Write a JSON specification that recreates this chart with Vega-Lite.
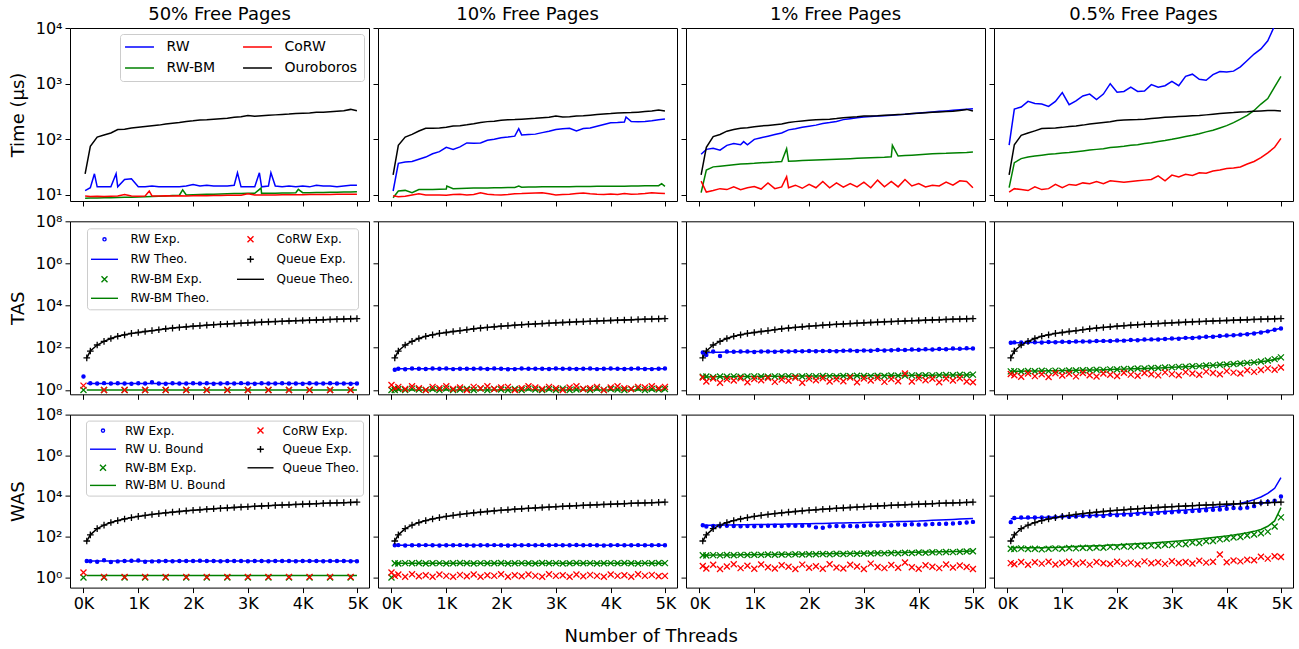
{
"$schema":"https://vega.github.io/schema/vega-lite/v6.json",
"background":"white",
"padding":{"left":8,"top":5,"right":2,"bottom":2},
"title":{"text":"Number of Threads","orient":"bottom","anchor":"middle","fontSize":18,"fontWeight":"normal","offset":16},
"datasets":{
"t":[
{"p":1,"x":30,"a":12,"b":8.7,"c":9.6,"d":24},{"p":1,"x":125,"a":13.5,"b":8.8,"c":9.4,"d":75},{"p":1,"x":200,"a":24},{"p":1,"x":250,"a":14,"b":8.8,"c":9.5,"d":110},{"p":1,"x":375,"a":14,"b":8.9,"c":9.4,"d":120},{"p":1,"x":500,"a":14,"b":8.9,"c":9.5,"d":130},{"p":1,"x":595,"a":24},{"p":1,"x":625,"a":14,"b":9,"c":9.6,"d":150},{"p":1,"x":750,"a":19,"b":9.1,"c":10.2,"d":152},{"p":1,"x":875,"a":19.5,"b":9.1,"c":9.6,"d":160},{"p":1,"x":1000,"a":14,"b":9.2,"c":9.5,"d":165},{"p":1,"x":1125,"a":14,"b":9.3,"c":9.6,"d":170},{"p":1,"x":1200,"c":11.8},{"p":1,"x":1250,"a":14.5,"b":9.4,"c":9.6,"d":175},{"p":1,"x":1375,"a":14,"b":9.5,"c":9.6,"d":180},{"p":1,"x":1500,"a":14,"b":9.6,"c":9.7,"d":188},{"p":1,"x":1625,"a":14,"b":9.8,"c":9.6,"d":195},{"p":1,"x":1750,"a":14,"b":9.9,"c":9.7,"d":200},{"p":1,"x":1810,"b":12.4},{"p":1,"x":1875,"a":14.5,"b":10,"c":9.6,"d":210},{"p":1,"x":2000,"a":15.5,"b":10.1,"c":9.7,"d":215},{"p":1,"x":2125,"a":14.5,"b":10.2,"c":9.8,"d":222},{"p":1,"x":2250,"a":15,"b":10.3,"c":9.7,"d":225},{"p":1,"x":2375,"a":14.5,"b":10.3,"c":9.8,"d":230},{"p":1,"x":2500,"a":14.5,"b":10.4,"c":9.8,"d":235},{"p":1,"x":2625,"a":14.5,"b":10.5,"c":9.9,"d":240},{"p":1,"x":2750,"a":15,"b":10.6,"c":9.9,"d":250},{"p":1,"x":2810,"a":25},{"p":1,"x":2875,"a":14,"b":10.6,"c":9.9,"d":255},{"p":1,"x":3000,"a":14,"b":10.7,"c":10.5,"d":268},{"p":1,"x":3125,"a":14,"b":10.7,"c":10,"d":260},{"p":1,"x":3210,"a":25},{"p":1,"x":3240,"b":13.3},{"p":1,"x":3250,"a":14,"b":10.7,"c":10,"d":265},{"p":1,"x":3375,"a":14.5,"b":10.8,"c":10,"d":270},{"p":1,"x":3420,"a":25},{"p":1,"x":3500,"a":14.5,"b":10.8,"c":10,"d":275},{"p":1,"x":3625,"a":14,"b":10.9,"c":10.1,"d":280},{"p":1,"x":3750,"a":14.5,"b":10.9,"c":10.1,"d":285},{"p":1,"x":3875,"a":14,"b":10.95,"c":10.1,"d":292},{"p":1,"x":3920,"b":12.6},{"p":1,"x":4000,"a":14.5,"b":11,"c":10.1,"d":295},{"p":1,"x":4125,"a":14,"b":11,"c":10.2,"d":298},{"p":1,"x":4250,"a":15,"b":11.1,"c":10.2,"d":305},{"p":1,"x":4375,"a":14.5,"b":11.1,"c":10.2,"d":308},{"p":1,"x":4500,"a":14.5,"b":11.2,"c":10.2,"d":312},{"p":1,"x":4625,"a":14,"b":11.2,"c":10.3,"d":318},{"p":1,"x":4750,"a":14.5,"b":11.3,"c":10.3,"d":325},{"p":1,"x":4875,"a":15,"b":11.3,"c":10.3,"d":345},{"p":1,"x":4990,"a":15,"b":11.4,"c":10.3,"d":325},
{"p":2,"x":30,"a":11.8,"b":8.9,"c":9.7,"d":23},{"p":2,"x":125,"a":37,"b":11.8,"c":9.3,"d":78},{"p":2,"x":250,"a":39,"b":12.1,"c":9.5,"d":110},{"p":2,"x":375,"a":40,"b":11,"c":10,"d":123},{"p":2,"x":500,"a":44,"b":12.5,"c":10.5,"d":141},{"p":2,"x":625,"a":48,"b":12.5,"c":10,"d":158},{"p":2,"x":750,"a":55,"b":12.6,"c":10,"d":158},{"p":2,"x":875,"a":60,"b":12.7,"c":10,"d":160},{"p":2,"x":1000,"a":72,"b":12.8,"c":9.9,"d":165},{"p":2,"x":1010,"b":14.5},{"p":2,"x":1125,"a":66,"b":13,"c":10.2,"d":174},{"p":2,"x":1250,"a":73,"b":13.1,"c":10.3,"d":176},{"p":2,"x":1375,"a":86,"b":13.2,"c":10,"d":182},{"p":2,"x":1500,"a":85,"b":13.3,"c":10.2,"d":190},{"p":2,"x":1625,"a":86,"b":13.3,"c":11,"d":200},{"p":2,"x":1750,"a":96,"b":13.4,"c":10.3,"d":208},{"p":2,"x":1875,"a":100,"b":13.5,"c":10.1,"d":212},{"p":2,"x":2000,"a":107,"b":13.5,"c":10,"d":220},{"p":2,"x":2125,"a":110,"b":13.6,"c":10.2,"d":224},{"p":2,"x":2250,"a":114,"b":13.7,"c":10.5,"d":226},{"p":2,"x":2322,"a":155,"b":14.5},{"p":2,"x":2375,"a":120,"b":13.8,"c":10.6,"d":230},{"p":2,"x":2500,"a":122,"b":13.9,"c":10.8,"d":234},{"p":2,"x":2625,"a":124,"b":13.9,"c":10.9,"d":238},{"p":2,"x":2750,"a":132,"b":14,"c":11,"d":245},{"p":2,"x":2875,"a":140,"b":14,"c":10.5,"d":250},{"p":2,"x":3000,"a":150,"b":14,"c":10,"d":262},{"p":2,"x":3125,"a":155,"b":14.1,"c":10.2,"d":252},{"p":2,"x":3250,"a":158,"b":14.1,"c":10.3,"d":255},{"p":2,"x":3375,"a":142,"b":14.2,"c":10.6,"d":262},{"p":2,"x":3500,"a":156,"b":14.2,"c":10.9,"d":266},{"p":2,"x":3625,"a":160,"b":14.2,"c":10.5,"d":272},{"p":2,"x":3750,"a":172,"b":14.3,"c":10.3,"d":278},{"p":2,"x":3875,"a":185,"b":14.3,"c":10.2,"d":284},{"p":2,"x":4000,"a":198,"b":14.3,"c":10.4,"d":290},{"p":2,"x":4125,"a":200,"b":14.4,"c":10.2,"d":298},{"p":2,"x":4250,"a":205,"b":14.4,"c":10.6,"d":300},{"p":2,"x":4280,"a":252},{"p":2,"x":4375,"a":208,"b":14.5,"c":10.3,"d":302},{"p":2,"x":4500,"a":207,"b":14.5,"c":10.4,"d":308},{"p":2,"x":4625,"a":210,"b":14.6,"c":10.6,"d":315},{"p":2,"x":4750,"a":215,"b":14.6,"c":11,"d":322},{"p":2,"x":4875,"a":225,"b":14.7,"c":10.8,"d":335},{"p":2,"x":4930,"b":16},{"p":2,"x":4990,"a":232,"b":14.3,"c":10.6,"d":323},
{"p":3,"x":30,"a":54,"b":11,"c":17.8,"d":23},{"p":3,"x":125,"a":66,"b":28,"c":11.3,"d":72},{"p":3,"x":250,"a":69,"b":32,"c":12,"d":112},{"p":3,"x":375,"a":64,"b":33,"c":13,"d":122},{"p":3,"x":500,"a":78,"b":34,"c":12.5,"d":140},{"p":3,"x":625,"a":84,"b":35,"c":14,"d":150},{"p":3,"x":750,"a":80,"b":36,"c":12.5,"d":158},{"p":3,"x":806,"a":91},{"p":3,"x":875,"a":80,"b":36.5,"c":13.5,"d":162},{"p":3,"x":1000,"a":100,"b":37,"c":14.2,"d":168},{"p":3,"x":1125,"a":107,"b":38,"c":12.8,"d":174},{"p":3,"x":1250,"a":114,"b":38.5,"c":16.5,"d":178},{"p":3,"x":1375,"a":122,"b":39,"c":13,"d":183},{"p":3,"x":1500,"a":130,"b":40,"c":14,"d":188},{"p":3,"x":1590,"b":68,"c":21.4},{"p":3,"x":1625,"a":148,"b":40.5,"c":13.5,"d":200},{"p":3,"x":1750,"a":155,"b":41,"c":15,"d":208},{"p":3,"x":1875,"a":165,"b":41.5,"c":13.2,"d":214},{"p":3,"x":2000,"a":172,"b":42,"c":15.5,"d":220},{"p":3,"x":2125,"a":180,"b":42.5,"c":13.5,"d":224},{"p":3,"x":2250,"a":192,"b":43,"c":17.5,"d":228},{"p":3,"x":2375,"a":200,"b":43.5,"c":13.5,"d":230},{"p":3,"x":2500,"a":210,"b":44,"c":16.5,"d":236},{"p":3,"x":2625,"a":226,"b":44.5,"c":13.8,"d":244},{"p":3,"x":2750,"a":235,"b":45,"c":16,"d":250},{"p":3,"x":2875,"a":245,"b":45.5,"c":14,"d":255},{"p":3,"x":3000,"a":252,"b":46,"c":17,"d":262},{"p":3,"x":3125,"a":256,"b":46.5,"c":13.5,"d":262},{"p":3,"x":3250,"a":262,"b":47,"c":18.5,"d":265},{"p":3,"x":3375,"a":266,"b":47.5,"c":14,"d":270},{"p":3,"x":3500,"a":270,"b":48.5,"c":17.5,"d":274},{"p":3,"x":3520,"b":78},{"p":3,"x":3625,"a":275,"b":50,"c":14,"d":278},{"p":3,"x":3750,"a":282,"b":51,"c":19,"d":282},{"p":3,"x":3875,"a":289,"b":52,"c":14.5,"d":290},{"p":3,"x":4000,"a":296,"b":53,"c":16,"d":295},{"p":3,"x":4125,"a":302,"b":54,"c":14,"d":300},{"p":3,"x":4250,"a":310,"b":55,"c":15,"d":305},{"p":3,"x":4375,"a":318,"b":55.5,"c":14.5,"d":310},{"p":3,"x":4500,"a":324,"b":56,"c":17,"d":315},{"p":3,"x":4625,"a":332,"b":57,"c":15,"d":320},{"p":3,"x":4750,"a":340,"b":57.5,"c":18,"d":330},{"p":3,"x":4875,"a":348,"b":58,"c":17.5,"d":345},{"p":3,"x":4990,"a":356,"b":59,"c":13.5,"d":323},
{"p":4,"x":30,"a":79,"b":13.6,"c":11.3,"d":23},{"p":4,"x":125,"a":350,"b":38,"c":13,"d":80},{"p":4,"x":250,"a":380,"b":45,"c":12.5,"d":118},{"p":4,"x":375,"a":480,"b":48,"c":12,"d":130},{"p":4,"x":500,"a":440,"b":50,"c":14,"d":142},{"p":4,"x":625,"a":430,"b":52,"c":12.5,"d":156},{"p":4,"x":750,"a":390,"b":54,"c":13,"d":158},{"p":4,"x":875,"a":480,"b":55,"c":15.5,"d":160},{"p":4,"x":1000,"a":692,"b":57,"c":13.5,"d":164},{"p":4,"x":1125,"a":420,"b":58,"c":15.5,"d":170},{"p":4,"x":1250,"a":490,"b":60,"c":15,"d":174},{"p":4,"x":1375,"a":600,"b":62,"c":16.5,"d":180},{"p":4,"x":1500,"a":650,"b":64,"c":16,"d":188},{"p":4,"x":1625,"a":520,"b":66,"c":17.5,"d":194},{"p":4,"x":1750,"a":650,"b":68,"c":16,"d":200},{"p":4,"x":1875,"a":1000,"b":71,"c":18,"d":206},{"p":4,"x":2000,"a":700,"b":73,"c":17.5,"d":218},{"p":4,"x":2125,"a":724,"b":75,"c":17,"d":222},{"p":4,"x":2250,"a":870,"b":78,"c":17.5,"d":225},{"p":4,"x":2375,"a":724,"b":80,"c":18,"d":226},{"p":4,"x":2500,"a":740,"b":84,"c":18.5,"d":230},{"p":4,"x":2625,"a":960,"b":87,"c":19,"d":236},{"p":4,"x":2750,"a":860,"b":91,"c":22,"d":242},{"p":4,"x":2875,"a":920,"b":95,"c":18,"d":248},{"p":4,"x":3000,"a":1100,"b":100,"c":22.8,"d":252},{"p":4,"x":3125,"a":920,"b":106,"c":21,"d":256},{"p":4,"x":3250,"a":1350,"b":112,"c":23.5,"d":260},{"p":4,"x":3375,"a":1480,"b":118,"c":22.5,"d":264},{"p":4,"x":3500,"a":1200,"b":126,"c":25,"d":268},{"p":4,"x":3625,"a":1150,"b":136,"c":24.5,"d":275},{"p":4,"x":3750,"a":1450,"b":146,"c":27,"d":282},{"p":4,"x":3875,"a":1650,"b":160,"c":28,"d":290},{"p":4,"x":4000,"a":1620,"b":176,"c":30,"d":298},{"p":4,"x":4125,"a":1680,"b":200,"c":30.5,"d":302},{"p":4,"x":4250,"a":2000,"b":230,"c":31.8,"d":310},{"p":4,"x":4375,"a":2600,"b":270,"c":36,"d":312},{"p":4,"x":4500,"a":3400,"b":330,"c":40,"d":318},{"p":4,"x":4625,"a":4200,"b":430,"c":47,"d":322},{"p":4,"x":4750,"a":5900,"b":540,"c":57,"d":328},{"p":4,"x":4875,"a":11000,"b":880,"c":72,"d":330},{"p":4,"x":4990,"a":25000,"b":1350,"c":104,"d":323}
],
"u":[
{"p":1,"x":0,"e":4.3,"g":1,"i":1.6},{"p":1,"x":60,"f":2,"h":1,"q":33},{"p":1,"x":125,"e":2.05,"f":2,"h":1,"q":70},{"p":1,"x":250,"e":2,"f":2,"h":1,"q":135},{"p":1,"x":375,"e":2.1,"f":2,"g":1,"h":1,"i":1,"q":200},{"p":1,"x":500,"e":2,"f":2,"h":1,"q":275},{"p":1,"x":625,"e":2.05,"f":2,"h":1,"q":350},{"p":1,"x":750,"e":2,"f":2,"g":1,"h":1,"i":1,"q":410},{"p":1,"x":875,"e":1.95,"f":2,"h":1,"q":480},{"p":1,"x":1000,"e":2.05,"f":2,"h":1,"q":530},{"p":1,"x":1125,"e":2,"f":2,"g":1,"h":1,"i":1,"q":590},{"p":1,"x":1250,"e":2.3,"f":2,"h":1,"q":650},{"p":1,"x":1375,"e":2,"f":2,"h":1,"q":720},{"p":1,"x":1500,"e":1.95,"f":2,"g":1,"h":1,"i":1,"q":800},{"p":1,"x":1625,"e":2.05,"f":2,"h":1,"q":860},{"p":1,"x":1750,"e":2,"f":2,"h":1,"q":920},{"p":1,"x":1875,"e":2,"f":2,"g":1,"h":1,"i":1,"q":990},{"p":1,"x":2000,"e":2.05,"f":2,"h":1,"q":1050},{"p":1,"x":2125,"e":2,"f":2,"h":1,"q":1120},{"p":1,"x":2250,"e":2.05,"f":2,"g":1,"h":1,"i":1,"q":1180},{"p":1,"x":2375,"e":1.95,"f":2,"h":1,"q":1240},{"p":1,"x":2500,"e":2,"f":2,"h":1,"q":1300},{"p":1,"x":2625,"e":2.05,"f":2,"g":1,"h":1,"i":1,"q":1350},{"p":1,"x":2750,"e":2,"f":2,"h":1,"q":1410},{"p":1,"x":2875,"e":2.1,"f":2,"h":1,"q":1470},{"p":1,"x":3000,"e":2,"f":2,"g":1,"h":1,"i":1,"q":1530},{"p":1,"x":3125,"e":1.95,"f":2,"h":1,"q":1580},{"p":1,"x":3250,"e":2.05,"f":2,"h":1,"q":1640},{"p":1,"x":3375,"e":2,"f":2,"g":1,"h":1,"i":1,"q":1700},{"p":1,"x":3500,"e":2,"f":2,"h":1,"q":1750},{"p":1,"x":3625,"e":2.05,"f":2,"h":1,"q":1800},{"p":1,"x":3750,"e":2,"f":2,"g":1,"h":1,"i":1,"q":1860},{"p":1,"x":3875,"e":2,"f":2,"h":1,"q":1920},{"p":1,"x":4000,"e":1.95,"f":2,"h":1,"q":1970},{"p":1,"x":4125,"e":2.05,"f":2,"g":1,"h":1,"i":1,"q":2030},{"p":1,"x":4250,"e":2,"f":2,"h":1,"q":2080},{"p":1,"x":4375,"e":2,"f":2,"h":1,"q":2140},{"p":1,"x":4500,"e":2.05,"f":2,"g":1,"h":1,"i":1,"q":2200},{"p":1,"x":4625,"e":2,"f":2,"h":1,"q":2250},{"p":1,"x":4750,"e":2,"f":2,"h":1,"q":2310},{"p":1,"x":4875,"e":1.95,"f":2,"g":1,"h":1,"i":1,"q":2360},{"p":1,"x":4990,"e":2,"f":2,"h":1,"q":2420},
{"p":2,"x":0,"g":1,"i":1.7},{"p":2,"x":60,"e":9,"f":10,"g":1,"h":1,"i":1.2,"q":33},{"p":2,"x":125,"e":10.2,"f":10,"g":1.1,"h":1,"i":1.4,"q":70},{"p":2,"x":250,"e":9.6,"f":10,"g":1,"h":1,"i":1.1,"q":135},{"p":2,"x":375,"e":10.3,"f":10,"g":1.15,"h":1,"i":1.5,"q":200},{"p":2,"x":500,"e":10.2,"f":10,"g":1.05,"h":1,"i":1.2,"q":275},{"p":2,"x":625,"e":9.8,"f":10,"g":1,"h":1,"i":1,"q":350},{"p":2,"x":750,"e":10.3,"f":10,"g":1.1,"h":1,"i":1.4,"q":410},{"p":2,"x":875,"e":10,"f":10,"g":1,"h":1,"i":1.2,"q":480},{"p":2,"x":1000,"e":10.4,"f":10,"g":1.15,"h":1,"i":1.5,"q":530},{"p":2,"x":1125,"e":9.7,"f":10,"g":1,"h":1,"i":1.1,"q":590},{"p":2,"x":1250,"e":10.1,"f":10,"g":1.05,"h":1,"i":1.3,"q":650},{"p":2,"x":1375,"e":10,"f":10,"g":1.1,"h":1,"i":1,"q":720},{"p":2,"x":1500,"e":10.2,"f":10,"g":1,"h":1,"i":1.4,"q":800},{"p":2,"x":1625,"e":10.3,"f":10,"g":1.15,"h":1,"i":1.2,"q":860},{"p":2,"x":1750,"e":9.8,"f":10,"g":1,"h":1,"i":1.5,"q":920},{"p":2,"x":1875,"e":10.4,"f":10,"g":1.1,"h":1,"i":1.1,"q":990},{"p":2,"x":2000,"e":10,"f":10,"g":1.05,"h":1,"i":1.3,"q":1050},{"p":2,"x":2125,"e":9.6,"f":10,"g":1,"h":1,"i":1.4,"q":1120},{"p":2,"x":2250,"e":9.7,"f":10,"g":1.1,"h":1,"i":1,"q":1180},{"p":2,"x":2375,"e":10.3,"f":10,"g":1,"h":1,"i":1.2,"q":1240},{"p":2,"x":2500,"e":10,"f":10,"g":1.15,"h":1,"i":1.5,"q":1300},{"p":2,"x":2625,"e":10.2,"f":10,"g":1.05,"h":1,"i":1.3,"q":1350},{"p":2,"x":2750,"e":10,"f":10,"g":1,"h":1,"i":1.1,"q":1410},{"p":2,"x":2875,"e":9.9,"f":10,"g":1.1,"h":1,"i":1.4,"q":1470},{"p":2,"x":3000,"e":10.3,"f":10,"g":1,"h":1,"i":1.2,"q":1530},{"p":2,"x":3125,"e":10,"f":10,"g":1.15,"h":1,"i":1,"q":1580},{"p":2,"x":3250,"e":10.1,"f":10,"g":1,"h":1,"i":1.3,"q":1640},{"p":2,"x":3375,"e":9.8,"f":10,"g":1.05,"h":1,"i":1.5,"q":1700},{"p":2,"x":3500,"e":10.2,"f":10,"g":1.1,"h":1,"i":1.1,"q":1750},{"p":2,"x":3625,"e":10.4,"f":10,"g":1,"h":1,"i":1.2,"q":1800},{"p":2,"x":3750,"e":9.7,"f":10,"g":1.15,"h":1,"i":1.4,"q":1860},{"p":2,"x":3875,"e":10.2,"f":10,"g":1,"h":1,"i":1,"q":1920},{"p":2,"x":4000,"e":10.3,"f":10,"g":1.1,"h":1,"i":1.3,"q":1970},{"p":2,"x":4125,"e":10,"f":10,"g":1.05,"h":1,"i":1.5,"q":2030},{"p":2,"x":4250,"e":9.8,"f":10,"g":1,"h":1,"i":1.2,"q":2080},{"p":2,"x":4375,"e":10.2,"f":10,"g":1.1,"h":1,"i":1.1,"q":2140},{"p":2,"x":4500,"e":10.3,"f":10,"g":1.15,"h":1,"i":1.4,"q":2200},{"p":2,"x":4625,"e":9.9,"f":10,"g":1,"h":1,"i":1.3,"q":2250},{"p":2,"x":4750,"e":9.7,"f":10,"g":1.1,"h":1,"i":1.5,"q":2310},{"p":2,"x":4875,"e":10.1,"f":10,"g":1.05,"h":1,"i":1.2,"q":2360},{"p":2,"x":4990,"e":10.5,"f":10,"g":1.1,"h":1,"i":1.4,"q":2420},
{"p":3,"x":60,"e":59,"f":52,"g":4.2,"h":4.1,"i":3.9,"q":33},{"p":3,"x":125,"e":46,"f":58,"g":4.3,"h":4.15,"i":2.5,"q":70},{"p":3,"x":250,"e":66,"f":61,"g":4,"h":4.2,"i":3.5,"q":135},{"p":3,"x":375,"e":41,"f":62,"g":4.3,"h":4.2,"i":2.2,"q":200},{"p":3,"x":500,"e":66,"f":63,"g":4.2,"h":4.25,"i":3.2,"q":275},{"p":3,"x":625,"e":64,"f":64,"g":4.4,"h":4.3,"i":2.8,"q":350},{"p":3,"x":750,"e":66,"f":65,"g":4.2,"h":4.3,"i":3.6,"q":410},{"p":3,"x":875,"e":67,"f":65,"g":4.3,"h":4.35,"i":2.3,"q":480},{"p":3,"x":1000,"e":63,"f":66,"g":4.4,"h":4.35,"i":3.3,"q":530},{"p":3,"x":1125,"e":66,"f":66,"g":4.3,"h":4.4,"i":2.9,"q":590},{"p":3,"x":1250,"e":67,"f":67,"g":4.2,"h":4.4,"i":3.7,"q":650},{"p":3,"x":1375,"e":65,"f":67,"g":4.4,"h":4.45,"i":2.4,"q":720},{"p":3,"x":1500,"e":68,"f":68,"g":4.3,"h":4.45,"i":3.1,"q":800},{"p":3,"x":1625,"e":67,"f":68,"g":4.5,"h":4.5,"i":2.7,"q":860},{"p":3,"x":1750,"e":69,"f":69,"g":4.4,"h":4.5,"i":3.8,"q":920},{"p":3,"x":1875,"e":68,"f":69,"g":4.3,"h":4.55,"i":2.2,"q":990},{"p":3,"x":2000,"e":70,"f":70,"g":4.5,"h":4.55,"i":3.4,"q":1050},{"p":3,"x":2125,"e":69,"f":70,"g":4.4,"h":4.6,"i":2.9,"q":1120},{"p":3,"x":2250,"e":71,"f":71,"g":4.6,"h":4.6,"i":3.6,"q":1180},{"p":3,"x":2375,"e":70,"f":71,"g":4.5,"h":4.65,"i":2.5,"q":1240},{"p":3,"x":2500,"e":69,"f":72,"g":4.4,"h":4.65,"i":3.2,"q":1300},{"p":3,"x":2625,"e":72,"f":73,"g":4.6,"h":4.7,"i":2.6,"q":1350},{"p":3,"x":2750,"e":75,"f":73,"g":4.5,"h":4.7,"i":3.9,"q":1410},{"p":3,"x":2875,"e":70,"f":74,"g":4.7,"h":4.75,"i":2.3,"q":1470},{"p":3,"x":3000,"e":74,"f":75,"g":4.6,"h":4.75,"i":3.5,"q":1530},{"p":3,"x":3125,"e":72,"f":75,"g":4.5,"h":4.8,"i":2.8,"q":1580},{"p":3,"x":3250,"e":78,"f":76,"g":4.7,"h":4.8,"i":3.7,"q":1640},{"p":3,"x":3375,"e":75,"f":77,"g":4.6,"h":4.85,"i":2.4,"q":1700},{"p":3,"x":3500,"e":76,"f":78,"g":4.8,"h":4.85,"i":3.3,"q":1750},{"p":3,"x":3625,"e":80,"f":79,"g":4.7,"h":4.9,"i":2.6,"q":1800},{"p":3,"x":3750,"e":78,"f":79,"g":4.8,"h":4.9,"i":6,"q":1860},{"p":3,"x":3875,"e":82,"f":80,"g":4.9,"h":4.95,"i":2.5,"q":1920},{"p":3,"x":4000,"e":80,"f":81,"g":4.8,"h":4.95,"i":3.6,"q":1970},{"p":3,"x":4125,"e":85,"f":82,"g":5,"h":5,"i":2.9,"q":2030},{"p":3,"x":4250,"e":82,"f":83,"g":4.9,"h":5,"i":3.4,"q":2080},{"p":3,"x":4375,"e":88,"f":84,"g":5,"h":5.05,"i":2.3,"q":2140},{"p":3,"x":4500,"e":86,"f":85,"g":5.1,"h":5.05,"i":3.5,"q":2200},{"p":3,"x":4625,"e":92,"f":87,"g":5,"h":5.1,"i":2.8,"q":2250},{"p":3,"x":4750,"e":90,"f":88,"g":5.2,"h":5.1,"i":3.6,"q":2310},{"p":3,"x":4875,"e":94,"f":90,"g":5.1,"h":5.15,"i":2.5,"q":2360},{"p":3,"x":4990,"e":93,"f":92,"g":5.3,"h":5.2,"i":2.3,"q":2420},
{"p":4,"x":60,"e":175,"f":170,"g":7.6,"h":7.5,"i":5.7,"q":33},{"p":4,"x":125,"e":180,"f":172,"g":7.8,"h":7.6,"i":5,"q":70},{"p":4,"x":250,"e":178,"f":175,"g":7.5,"h":7.7,"i":4.2,"q":135},{"p":4,"x":375,"e":185,"f":178,"g":7.9,"h":7.8,"i":6,"q":200},{"p":4,"x":500,"e":182,"f":180,"g":7.7,"h":7.9,"i":4.5,"q":275},{"p":4,"x":625,"e":176,"f":182,"g":8.1,"h":8,"i":5.5,"q":350},{"p":4,"x":750,"e":188,"f":184,"g":7.8,"h":8.1,"i":4.1,"q":410},{"p":4,"x":875,"e":183,"f":186,"g":8.2,"h":8.2,"i":6.2,"q":480},{"p":4,"x":1000,"e":192,"f":188,"g":8,"h":8.3,"i":4.8,"q":530},{"p":4,"x":1125,"e":188,"f":191,"g":8.4,"h":8.4,"i":5.8,"q":590},{"p":4,"x":1250,"e":197,"f":194,"g":8.3,"h":8.5,"i":4.4,"q":650},{"p":4,"x":1375,"e":200,"f":197,"g":8.6,"h":8.6,"i":6.3,"q":720},{"p":4,"x":1500,"e":198,"f":200,"g":8.5,"h":8.8,"i":5,"q":800},{"p":4,"x":1625,"e":208,"f":204,"g":9,"h":8.9,"i":4.3,"q":860},{"p":4,"x":1750,"e":212,"f":208,"g":8.9,"h":9.1,"i":6,"q":920},{"p":4,"x":1875,"e":210,"f":212,"g":9.4,"h":9.3,"i":5.2,"q":990},{"p":4,"x":2000,"e":222,"f":217,"g":9.3,"h":9.5,"i":4.6,"q":1050},{"p":4,"x":2125,"e":218,"f":222,"g":9.9,"h":9.7,"i":6.5,"q":1120},{"p":4,"x":2250,"e":232,"f":228,"g":9.8,"h":10,"i":5.3,"q":1180},{"p":4,"x":2375,"e":228,"f":234,"g":10.4,"h":10.2,"i":4.7,"q":1240},{"p":4,"x":2500,"e":245,"f":240,"g":10.4,"h":10.5,"i":6.4,"q":1300},{"p":4,"x":2625,"e":250,"f":247,"g":11,"h":10.8,"i":5.5,"q":1350},{"p":4,"x":2750,"e":248,"f":254,"g":11,"h":11.1,"i":4.9,"q":1410},{"p":4,"x":2875,"e":262,"f":262,"g":11.6,"h":11.4,"i":6.8,"q":1470},{"p":4,"x":3000,"e":275,"f":270,"g":11.7,"h":11.8,"i":5.6,"q":1530},{"p":4,"x":3125,"e":270,"f":280,"g":12.4,"h":12.2,"i":5,"q":1580},{"p":4,"x":3250,"e":295,"f":290,"g":12.5,"h":12.6,"i":7,"q":1640},{"p":4,"x":3375,"e":290,"f":300,"g":13.3,"h":13.1,"i":6,"q":1700},{"p":4,"x":3500,"e":310,"f":312,"g":13.5,"h":13.6,"i":5.2,"q":1750},{"p":4,"x":3625,"e":330,"f":325,"g":14.3,"h":14.1,"i":7.4,"q":1800},{"p":4,"x":3750,"e":335,"f":340,"g":14.6,"h":14.7,"i":6.3,"q":1860},{"p":4,"x":3875,"e":360,"f":356,"g":15.5,"h":15.3,"i":5.5,"q":1920},{"p":4,"x":4000,"e":380,"f":375,"g":16,"h":16,"i":7.8,"q":1970},{"p":4,"x":4125,"e":390,"f":395,"g":17,"h":16.8,"i":6.6,"q":2030},{"p":4,"x":4250,"e":420,"f":420,"g":17.8,"h":17.7,"i":6,"q":2080},{"p":4,"x":4375,"e":440,"f":450,"g":19.2,"h":18.8,"i":8.5,"q":2140},{"p":4,"x":4500,"e":480,"f":490,"g":20.3,"h":20.1,"i":7.2,"q":2200},{"p":4,"x":4625,"e":530,"f":540,"g":22.5,"h":21.8,"i":8.8,"q":2250},{"p":4,"x":4750,"e":600,"f":610,"g":24.8,"h":24,"i":10.5,"q":2310},{"p":4,"x":4875,"e":720,"f":720,"g":29,"h":28,"i":9,"q":2360},{"p":4,"x":4990,"e":830,"f":850,"g":35,"h":34,"i":11.5,"q":2420}
],
"w":[
{"p":1,"x":0,"g":1,"i":1.76},{"p":1,"x":60,"e":6.5,"f":6.4,"h":1.25,"q":62},{"p":1,"x":125,"e":6.3,"f":6.4,"h":1.25,"q":125},{"p":1,"x":250,"e":6,"f":6.4,"h":1.25,"q":250},{"p":1,"x":375,"e":7,"f":6.4,"g":1,"h":1.25,"i":1.08,"q":375},{"p":1,"x":500,"e":5.8,"f":6.4,"h":1.25,"q":500},{"p":1,"x":625,"e":6.2,"f":6.4,"h":1.25,"q":625},{"p":1,"x":750,"e":6.4,"f":6.4,"g":1,"h":1.25,"i":1.08,"q":750},{"p":1,"x":875,"e":6.6,"f":6.4,"h":1.25,"q":875},{"p":1,"x":1000,"e":6.8,"f":6.4,"h":1.25,"q":1000},{"p":1,"x":1125,"e":6,"f":6.4,"g":1,"h":1.25,"i":1.08,"q":1125},{"p":1,"x":1250,"e":6.2,"f":6.4,"h":1.25,"q":1250},{"p":1,"x":1375,"e":6.3,"f":6.4,"h":1.25,"q":1375},{"p":1,"x":1500,"e":6.4,"f":6.4,"g":1,"h":1.25,"i":1.08,"q":1500},{"p":1,"x":1625,"e":6.3,"f":6.4,"h":1.25,"q":1625},{"p":1,"x":1750,"e":6.5,"f":6.4,"h":1.25,"q":1750},{"p":1,"x":1875,"e":6.4,"f":6.4,"g":1,"h":1.25,"i":1.08,"q":1875},{"p":1,"x":2000,"e":6.5,"f":6.4,"h":1.25,"q":2000},{"p":1,"x":2125,"e":6.6,"f":6.4,"h":1.25,"q":2125},{"p":1,"x":2250,"e":6.4,"f":6.4,"g":1,"h":1.25,"i":1.08,"q":2250},{"p":1,"x":2375,"e":6.5,"f":6.4,"h":1.25,"q":2375},{"p":1,"x":2500,"e":6.3,"f":6.4,"h":1.25,"q":2500},{"p":1,"x":2625,"e":6.4,"f":6.4,"g":1,"h":1.25,"i":1.08,"q":2625},{"p":1,"x":2750,"e":6.5,"f":6.4,"h":1.25,"q":2750},{"p":1,"x":2875,"e":6.4,"f":6.4,"h":1.25,"q":2875},{"p":1,"x":3000,"e":6.3,"f":6.4,"g":1,"h":1.25,"i":1.08,"q":3000},{"p":1,"x":3125,"e":6.5,"f":6.4,"h":1.25,"q":3125},{"p":1,"x":3250,"e":6.4,"f":6.4,"h":1.25,"q":3250},{"p":1,"x":3375,"e":6.3,"f":6.4,"g":1,"h":1.25,"i":1.08,"q":3375},{"p":1,"x":3500,"e":6.4,"f":6.4,"h":1.25,"q":3500},{"p":1,"x":3625,"e":6.5,"f":6.4,"h":1.25,"q":3625},{"p":1,"x":3750,"e":6.4,"f":6.4,"g":1,"h":1.25,"i":1.08,"q":3750},{"p":1,"x":3875,"e":6.3,"f":6.4,"h":1.25,"q":3875},{"p":1,"x":4000,"e":6.4,"f":6.4,"h":1.25,"q":4000},{"p":1,"x":4125,"e":6.5,"f":6.4,"g":1,"h":1.25,"i":1.08,"q":4125},{"p":1,"x":4250,"e":6.4,"f":6.4,"h":1.25,"q":4250},{"p":1,"x":4375,"e":6.3,"f":6.4,"h":1.25,"q":4375},{"p":1,"x":4500,"e":6.4,"f":6.4,"g":1,"h":1.25,"i":1.08,"q":4500},{"p":1,"x":4625,"e":6.5,"f":6.4,"h":1.25,"q":4625},{"p":1,"x":4750,"e":6.4,"f":6.4,"h":1.25,"q":4750},{"p":1,"x":4875,"e":6.3,"f":6.4,"g":1,"h":1.25,"i":1.08,"q":4875},{"p":1,"x":4990,"e":6.3,"f":6.4,"h":1.25,"q":5000},
{"p":2,"x":0,"g":1,"i":1.76},{"p":2,"x":60,"e":38,"f":38,"g":5,"h":5,"i":1.2,"q":62},{"p":2,"x":125,"e":39,"f":38,"g":4.9,"h":5,"i":1.4,"q":125},{"p":2,"x":250,"e":37,"f":38,"g":5.1,"h":5,"i":1.1,"q":250},{"p":2,"x":375,"e":38,"f":38,"g":5,"h":5,"i":1.45,"q":375},{"p":2,"x":500,"e":38.5,"f":38,"g":5.2,"h":5,"i":1.15,"q":500},{"p":2,"x":625,"e":39,"f":38,"g":4.9,"h":5,"i":1.3,"q":625},{"p":2,"x":750,"e":38,"f":38,"g":5,"h":5,"i":1.1,"q":750},{"p":2,"x":875,"e":37,"f":38,"g":5.1,"h":5,"i":1.4,"q":875},{"p":2,"x":1000,"e":38,"f":38,"g":4.9,"h":5,"i":1.2,"q":1000},{"p":2,"x":1125,"e":38.5,"f":38,"g":5,"h":5,"i":1.1,"q":1125},{"p":2,"x":1250,"e":39,"f":38,"g":5.2,"h":5,"i":1.35,"q":1250},{"p":2,"x":1375,"e":38,"f":38,"g":5,"h":5,"i":1.15,"q":1375},{"p":2,"x":1500,"e":37.5,"f":38,"g":4.9,"h":5,"i":1.4,"q":1500},{"p":2,"x":1625,"e":38,"f":38,"g":5.1,"h":5,"i":1.1,"q":1625},{"p":2,"x":1750,"e":38.5,"f":38,"g":5,"h":5,"i":1.3,"q":1750},{"p":2,"x":1875,"e":39,"f":38,"g":5,"h":5,"i":1.2,"q":1875},{"p":2,"x":2000,"e":38,"f":38,"g":5.2,"h":5,"i":1.45,"q":2000},{"p":2,"x":2125,"e":37,"f":38,"g":4.9,"h":5,"i":1.1,"q":2125},{"p":2,"x":2250,"e":38,"f":38,"g":5,"h":5,"i":1.3,"q":2250},{"p":2,"x":2375,"e":38.5,"f":38,"g":5.1,"h":5,"i":1.15,"q":2375},{"p":2,"x":2500,"e":39,"f":38,"g":5,"h":5,"i":1.4,"q":2500},{"p":2,"x":2625,"e":38,"f":38,"g":4.9,"h":5,"i":1.2,"q":2625},{"p":2,"x":2750,"e":40,"f":38,"g":5.2,"h":5,"i":1.1,"q":2750},{"p":2,"x":2875,"e":38,"f":38,"g":5,"h":5,"i":1.45,"q":2875},{"p":2,"x":3000,"e":39,"f":38,"g":5.1,"h":5,"i":1.2,"q":3000},{"p":2,"x":3125,"e":38,"f":38,"g":4.9,"h":5,"i":1.3,"q":3125},{"p":2,"x":3250,"e":38.5,"f":38,"g":5,"h":5,"i":1.1,"q":3250},{"p":2,"x":3375,"e":40,"f":38,"g":5.2,"h":5,"i":1.4,"q":3375},{"p":2,"x":3500,"e":38,"f":38,"g":5,"h":5,"i":1.15,"q":3500},{"p":2,"x":3625,"e":39,"f":38,"g":5.1,"h":5,"i":1.35,"q":3625},{"p":2,"x":3750,"e":38,"f":38,"g":4.9,"h":5,"i":1.2,"q":3750},{"p":2,"x":3875,"e":37.5,"f":38,"g":5,"h":5,"i":1.1,"q":3875},{"p":2,"x":4000,"e":38,"f":38,"g":5.1,"h":5,"i":1.4,"q":4000},{"p":2,"x":4125,"e":39,"f":38,"g":5,"h":5,"i":1.2,"q":4125},{"p":2,"x":4250,"e":38.5,"f":38,"g":5.2,"h":5,"i":1.3,"q":4250},{"p":2,"x":4375,"e":38,"f":38,"g":5,"h":5,"i":1.1,"q":4375},{"p":2,"x":4500,"e":39,"f":38,"g":4.9,"h":5,"i":1.45,"q":4500},{"p":2,"x":4625,"e":38,"f":38,"g":5.1,"h":5,"i":1.2,"q":4625},{"p":2,"x":4750,"e":38.5,"f":38,"g":5,"h":5,"i":1.35,"q":4750},{"p":2,"x":4875,"e":39,"f":38,"g":5.2,"h":5,"i":1.15,"q":4875},{"p":2,"x":4990,"e":38.5,"f":38,"g":5.1,"h":5,"i":1.2,"q":5000},
{"p":3,"x":60,"e":365,"f":365,"g":12.4,"h":12.5,"i":3.7,"q":62},{"p":3,"x":125,"e":320,"f":368,"g":12,"h":12.5,"i":2.8,"q":125},{"p":3,"x":250,"e":340,"f":372,"g":12.6,"h":12.6,"i":4.2,"q":250},{"p":3,"x":375,"e":345,"f":376,"g":12.2,"h":12.7,"i":2.6,"q":375},{"p":3,"x":500,"e":350,"f":380,"g":12.8,"h":12.8,"i":3.5,"q":500},{"p":3,"x":625,"e":335,"f":384,"g":12.5,"h":12.9,"i":4.5,"q":625},{"p":3,"x":750,"e":330,"f":388,"g":13,"h":13,"i":2.9,"q":750},{"p":3,"x":875,"e":335,"f":392,"g":12.7,"h":13.1,"i":3.8,"q":875},{"p":3,"x":1000,"e":325,"f":397,"g":13.2,"h":13.2,"i":2.7,"q":1000},{"p":3,"x":1125,"e":340,"f":402,"g":12.9,"h":13.4,"i":4.4,"q":1125},{"p":3,"x":1250,"e":350,"f":407,"g":13.4,"h":13.5,"i":3.2,"q":1250},{"p":3,"x":1375,"e":345,"f":412,"g":13.1,"h":13.6,"i":2.8,"q":1375},{"p":3,"x":1500,"e":340,"f":417,"g":13.6,"h":13.8,"i":4,"q":1500},{"p":3,"x":1625,"e":355,"f":423,"g":13.3,"h":13.9,"i":3.4,"q":1625},{"p":3,"x":1750,"e":350,"f":429,"g":13.8,"h":14,"i":2.6,"q":1750},{"p":3,"x":1875,"e":345,"f":435,"g":13.5,"h":14.2,"i":4.3,"q":1875},{"p":3,"x":2000,"e":360,"f":441,"g":14,"h":14.3,"i":3,"q":2000},{"p":3,"x":2125,"e":290,"f":448,"g":13.8,"h":14.5,"i":3.6,"q":2125},{"p":3,"x":2250,"e":280,"f":455,"g":14.3,"h":14.6,"i":2.7,"q":2250},{"p":3,"x":2375,"e":330,"f":462,"g":14,"h":14.8,"i":4.5,"q":2375},{"p":3,"x":2500,"e":335,"f":470,"g":14.6,"h":15,"i":3.1,"q":2500},{"p":3,"x":2625,"e":330,"f":478,"g":14.3,"h":15.1,"i":2.8,"q":2625},{"p":3,"x":2750,"e":335,"f":486,"g":14.9,"h":15.3,"i":4.2,"q":2750},{"p":3,"x":2875,"e":330,"f":495,"g":14.6,"h":15.5,"i":3.5,"q":2875},{"p":3,"x":3000,"e":345,"f":504,"g":15.2,"h":15.7,"i":2.6,"q":3000},{"p":3,"x":3125,"e":370,"f":514,"g":15,"h":15.9,"i":4.8,"q":3125},{"p":3,"x":3250,"e":360,"f":524,"g":15.6,"h":16.1,"i":3.3,"q":3250},{"p":3,"x":3375,"e":380,"f":535,"g":15.3,"h":16.3,"i":2.9,"q":3375},{"p":3,"x":3500,"e":365,"f":546,"g":16,"h":16.5,"i":4.1,"q":3500},{"p":3,"x":3625,"e":400,"f":558,"g":15.7,"h":16.7,"i":3,"q":3625},{"p":3,"x":3750,"e":390,"f":570,"g":16.4,"h":17,"i":5.5,"q":3750},{"p":3,"x":3875,"e":410,"f":583,"g":16.1,"h":17.2,"i":3.2,"q":3875},{"p":3,"x":4000,"e":395,"f":596,"g":16.8,"h":17.4,"i":2.7,"q":4000},{"p":3,"x":4125,"e":400,"f":620,"g":16.6,"h":17.7,"i":4,"q":4125},{"p":3,"x":4250,"e":420,"f":640,"g":17.3,"h":17.9,"i":3.4,"q":4250},{"p":3,"x":4375,"e":430,"f":660,"g":17.1,"h":18.2,"i":2.9,"q":4375},{"p":3,"x":4500,"e":440,"f":680,"g":17.8,"h":18.5,"i":4.4,"q":4500},{"p":3,"x":4625,"e":450,"f":705,"g":17.7,"h":18.8,"i":3.1,"q":4625},{"p":3,"x":4750,"e":470,"f":740,"g":18.5,"h":19.1,"i":3.9,"q":4750},{"p":3,"x":4875,"e":500,"f":770,"g":18.8,"h":19.4,"i":3.3,"q":4875},{"p":3,"x":4990,"e":540,"f":800,"g":19.5,"h":19.8,"i":2.6,"q":5000},
{"p":4,"x":60,"e":525,"f":770,"g":26,"h":30,"i":5.1,"q":62},{"p":4,"x":125,"e":830,"f":800,"g":25,"h":30,"i":4.5,"q":125},{"p":4,"x":250,"e":880,"f":820,"g":27,"h":29,"i":5.8,"q":250},{"p":4,"x":375,"e":880,"f":840,"g":25,"h":29,"i":4.2,"q":375},{"p":4,"x":500,"e":880,"f":860,"g":26,"h":29,"i":5.6,"q":500},{"p":4,"x":625,"e":890,"f":880,"g":24,"h":29,"i":4.8,"q":625},{"p":4,"x":750,"e":900,"f":910,"g":26,"h":30,"i":5.9,"q":750},{"p":4,"x":875,"e":920,"f":940,"g":27,"h":30,"i":4.4,"q":875},{"p":4,"x":1000,"e":1000,"f":970,"g":26,"h":31,"i":5.2,"q":1000},{"p":4,"x":1125,"e":950,"f":1000,"g":28,"h":32,"i":6,"q":1125},{"p":4,"x":1250,"e":1000,"f":1030,"g":27,"h":33,"i":4.6,"q":1250},{"p":4,"x":1375,"e":1050,"f":1070,"g":29,"h":34,"i":5.5,"q":1375},{"p":4,"x":1500,"e":1020,"f":1110,"g":28,"h":35,"i":4.3,"q":1500},{"p":4,"x":1625,"e":1100,"f":1150,"g":30,"h":36,"i":5.8,"q":1625},{"p":4,"x":1750,"e":1060,"f":1190,"g":29,"h":37,"i":5,"q":1750},{"p":4,"x":1875,"e":1200,"f":1240,"g":32,"h":39,"i":4.6,"q":1875},{"p":4,"x":2000,"e":1150,"f":1290,"g":31,"h":40,"i":6,"q":2000},{"p":4,"x":2125,"e":1250,"f":1340,"g":34,"h":42,"i":4.8,"q":2125},{"p":4,"x":2250,"e":1200,"f":1400,"g":32,"h":44,"i":5.4,"q":2250},{"p":4,"x":2375,"e":1350,"f":1460,"g":36,"h":46,"i":4.5,"q":2375},{"p":4,"x":2500,"e":1450,"f":1520,"g":34,"h":48,"i":6.2,"q":2500},{"p":4,"x":2625,"e":1300,"f":1590,"g":38,"h":50,"i":5,"q":2625},{"p":4,"x":2750,"e":1500,"f":1660,"g":36,"h":53,"i":5.6,"q":2750},{"p":4,"x":2875,"e":1550,"f":1740,"g":41,"h":56,"i":4.7,"q":2875},{"p":4,"x":3000,"e":1600,"f":1830,"g":39,"h":59,"i":6.3,"q":3000},{"p":4,"x":3125,"e":1750,"f":1930,"g":45,"h":63,"i":5.2,"q":3125},{"p":4,"x":3250,"e":1650,"f":2040,"g":43,"h":67,"i":5.8,"q":3250},{"p":4,"x":3375,"e":1850,"f":2170,"g":52,"h":72,"i":4.9,"q":3375},{"p":4,"x":3500,"e":1900,"f":2320,"g":50,"h":78,"i":6.6,"q":3500},{"p":4,"x":3625,"e":2000,"f":2500,"g":60,"h":85,"i":5.4,"q":3625},{"p":4,"x":3750,"e":2100,"f":2720,"g":62,"h":92,"i":6,"q":3750},{"p":4,"x":3875,"e":2200,"f":3000,"g":75,"h":100,"i":13.5,"q":3875},{"p":4,"x":4000,"e":2400,"f":3350,"g":80,"h":110,"i":5.6,"q":4000},{"p":4,"x":4125,"e":2600,"f":3800,"g":92,"h":122,"i":6.8,"q":4125},{"p":4,"x":4250,"e":2500,"f":4400,"g":98,"h":138,"i":6.2,"q":4250},{"p":4,"x":4375,"e":2700,"f":5300,"g":115,"h":158,"i":7.4,"q":4375},{"p":4,"x":4500,"e":3200,"f":6700,"g":130,"h":185,"i":7,"q":4500},{"p":4,"x":4625,"e":4500,"f":9000,"g":150,"h":230,"i":10.5,"q":4625},{"p":4,"x":4750,"e":5200,"f":13500,"g":180,"h":330,"i":8.5,"q":4750},{"p":4,"x":4875,"e":5900,"f":24000,"g":320,"h":600,"i":11,"q":4875},{"p":4,"x":4990,"e":9600,"f":80000,"g":900,"h":2700,"i":10.2,"q":5000}
]
},
"columns":4,
"spacing":{"row":20.3,"column":9},
"bounds":"flush",
"resolve":{"scale":{"x":"independent","y":"independent","color":"independent","stroke":"independent","shape":"independent","size":"independent"},"legend":{"color":"independent","stroke":"independent","shape":"independent","size":"independent"}},
"concat":[
{"width":299,"height":173,"title":{"text":"50% Free Pages","offset":-4},"data":{"name":"t"},"transform":[{"filter":"datum.p==1"},{"fold":["a","b","c","d"],"as":["s","v"]},{"filter":"isValid(datum.v)"}],"mark":{"type":"line","strokeWidth":1.5,"clip":true},"encoding":{"x":{"field":"x","type":"quantitative","scale":{"domain":[-246,5210],"nice":false,"zero":false},"axis":{"values":[0,1000,2000,3000,4000,5000],"labels":false,"title":null}},"y":{"field":"v","type":"quantitative","scale":{"type":"log","domain":[7.8,10000],"nice":false},"axis":{"values":[10,100,1000,10000],"labelExpr":"'10'+['⁰','¹','²','³','⁴','⁵','⁶','⁷','⁸'][round(log(datum.value)/LN10)]","title":"Time (µs)"}},"color":{"field":"s","type":"nominal","scale":{"domain":["a","b","c","d"],"range":["#0000ff","#008000","#ff0000","#000000"]},"legend":{"title":null,"orient":"none","legendX":50,"legendY":6,"columns":2,"symbolType":"M-3,0L3,0","symbolSize":93,"symbolStrokeWidth":1.5,"labelExpr":"['RW','RW-BM','CoRW','Ouroboros'][indexof(['a','b','c','d'],datum.label)]","labelFontSize":14,"padding":6,"rowPadding":7,"columnPadding":24,"symbolOffset":6.5,"labelOffset":20,"strokeColor":"#cccccc","fillColor":"rgba(255,255,255,0.8)","cornerRadius":3}}}},
{"width":299,"height":173,"title":"10% Free Pages","data":{"name":"t"},"transform":[{"filter":"datum.p==2"},{"fold":["a","b","c","d"],"as":["s","v"]},{"filter":"isValid(datum.v)"}],"mark":{"type":"line","strokeWidth":1.5,"clip":true},"encoding":{"x":{"field":"x","type":"quantitative","scale":{"domain":[-246,5210],"nice":false,"zero":false},"axis":{"values":[0,1000,2000,3000,4000,5000],"labels":false,"title":null}},"y":{"field":"v","type":"quantitative","scale":{"type":"log","domain":[7.8,10000],"nice":false},"axis":{"values":[10,100,1000,10000],"labels":false,"title":null}},"color":{"field":"s","type":"nominal","scale":{"domain":["a","b","c","d"],"range":["#0000ff","#008000","#ff0000","#000000"]},"legend":null}}},
{"width":299,"height":173,"title":"1% Free Pages","data":{"name":"t"},"transform":[{"filter":"datum.p==3"},{"fold":["a","b","c","d"],"as":["s","v"]},{"filter":"isValid(datum.v)"}],"mark":{"type":"line","strokeWidth":1.5,"clip":true},"encoding":{"x":{"field":"x","type":"quantitative","scale":{"domain":[-246,5210],"nice":false,"zero":false},"axis":{"values":[0,1000,2000,3000,4000,5000],"labels":false,"title":null}},"y":{"field":"v","type":"quantitative","scale":{"type":"log","domain":[7.8,10000],"nice":false},"axis":{"values":[10,100,1000,10000],"labels":false,"title":null}},"color":{"field":"s","type":"nominal","scale":{"domain":["a","b","c","d"],"range":["#0000ff","#008000","#ff0000","#000000"]},"legend":null}}},
{"width":299,"height":173,"title":"0.5% Free Pages","data":{"name":"t"},"transform":[{"filter":"datum.p==4"},{"fold":["a","b","c","d"],"as":["s","v"]},{"filter":"isValid(datum.v)"}],"mark":{"type":"line","strokeWidth":1.5,"clip":true},"encoding":{"x":{"field":"x","type":"quantitative","scale":{"domain":[-246,5210],"nice":false,"zero":false},"axis":{"values":[0,1000,2000,3000,4000,5000],"labels":false,"title":null}},"y":{"field":"v","type":"quantitative","scale":{"type":"log","domain":[7.8,10000],"nice":false},"axis":{"values":[10,100,1000,10000],"labels":false,"title":null}},"color":{"field":"s","type":"nominal","scale":{"domain":["a","b","c","d"],"range":["#0000ff","#008000","#ff0000","#000000"]},"legend":null}}},
{"width":299,"height":173,"data":{"name":"u"},"transform":[{"filter":"datum.p==1"},{"fold":["e","f","g","h","i","q"],"as":["s","v"]},{"filter":"isValid(datum.v)"}],"encoding":{"x":{"field":"x","type":"quantitative","scale":{"domain":[-246,5210],"nice":false,"zero":false},"axis":{"values":[0,1000,2000,3000,4000,5000],"labels":false,"title":null}},"y":{"field":"v","type":"quantitative","scale":{"type":"log","domain":[0.62,100000000],"nice":false},"axis":{"values":[1,100,10000,1000000,100000000],"labelExpr":"'10'+['⁰','¹','²','³','⁴','⁵','⁶','⁷','⁸'][round(log(datum.value)/LN10)]","title":"TAS"}}},"layer":[
{"transform":[{"filter":"indexof(['f','h','q'],datum.s)>=0"}],"mark":{"type":"line","strokeWidth":1.5,"clip":true},"encoding":{"stroke":{"field":"s","type":"nominal","scale":{"domain":["f","h","q"],"range":["#0000ff","#008000","#000000"]},"legend":null}}},
{"transform":[{"filter":"indexof(['e','g','i','q'],datum.s)>=0"}],"mark":{"type":"point","filled":false,"opacity":1,"strokeWidth":1.3,"clip":true},"encoding":{"fill":{"condition":{"test":"datum.s=='e'","value":"#0000ff"},"value":"transparent"},"color":{"field":"s","type":"nominal","scale":{"domain":["e","f","g","h","i","q","k"],"range":["#0000ff","#0000ff","#008000","#008000","#ff0000","#000000","#000000"]},"legend":{"title":null,"orient":"none","legendX":17,"legendY":7,"columns":2,"symbolStrokeWidth":1.4,"encode":{"symbols":{"update":{"fill":{"value":"#0000ff"}}}},"labelExpr":"['RW Exp.','RW Theo.','RW-BM Exp.','RW-BM Theo.','CoRW Exp.','Queue Exp.','Queue Theo.'][indexof(['e','f','g','h','i','q','k'],datum.label)]","labelFontSize":12,"padding":5,"rowPadding":7,"columnPadding":24,"symbolOffset":6.5,"labelOffset":20,"strokeColor":"#cccccc","fillColor":"rgba(255,255,255,0.8)","cornerRadius":3}},"shape":{"field":"s","type":"nominal","scale":{"domain":["e","f","g","h","i","q","k"],"range":["circle","M-3,0L3,0","M-1,-1L1,1M1,-1L-1,1","M-3,0L3,0","M-1,-1L1,1M1,-1L-1,1","M-1,0L1,0M0,-1L0,1","M-3,0L3,0"]},"legend":{"title":null,"orient":"none","legendX":17,"legendY":7,"columns":2,"symbolStrokeWidth":1.4,"encode":{"symbols":{"update":{"fill":{"value":"#0000ff"}}}},"labelExpr":"['RW Exp.','RW Theo.','RW-BM Exp.','RW-BM Theo.','CoRW Exp.','Queue Exp.','Queue Theo.'][indexof(['e','f','g','h','i','q','k'],datum.label)]","labelFontSize":12,"padding":5,"rowPadding":7,"columnPadding":24,"symbolOffset":6.5,"labelOffset":20,"strokeColor":"#cccccc","fillColor":"rgba(255,255,255,0.8)","cornerRadius":3}},"size":{"field":"s","type":"nominal","scale":{"type":"ordinal","domain":["e","f","g","h","i","q","k"],"range":[10,81,36,81,36,44,81]},"legend":{"title":null,"orient":"none","legendX":17,"legendY":7,"columns":2,"symbolStrokeWidth":1.4,"encode":{"symbols":{"update":{"fill":{"value":"#0000ff"}}}},"labelExpr":"['RW Exp.','RW Theo.','RW-BM Exp.','RW-BM Theo.','CoRW Exp.','Queue Exp.','Queue Theo.'][indexof(['e','f','g','h','i','q','k'],datum.label)]","labelFontSize":12,"padding":5,"rowPadding":7,"columnPadding":24,"symbolOffset":6.5,"labelOffset":20,"strokeColor":"#cccccc","fillColor":"rgba(255,255,255,0.8)","cornerRadius":3}}}}]},
{"width":299,"height":173,"data":{"name":"u"},"transform":[{"filter":"datum.p==2"},{"fold":["e","f","g","h","i","q"],"as":["s","v"]},{"filter":"isValid(datum.v)"}],"encoding":{"x":{"field":"x","type":"quantitative","scale":{"domain":[-246,5210],"nice":false,"zero":false},"axis":{"values":[0,1000,2000,3000,4000,5000],"labels":false,"title":null}},"y":{"field":"v","type":"quantitative","scale":{"type":"log","domain":[0.62,100000000],"nice":false},"axis":{"values":[1,100,10000,1000000,100000000],"labels":false,"title":null}}},"layer":[
{"transform":[{"filter":"indexof(['f','h','q'],datum.s)>=0"}],"mark":{"type":"line","strokeWidth":1.5,"clip":true},"encoding":{"stroke":{"field":"s","type":"nominal","scale":{"domain":["f","h","q"],"range":["#0000ff","#008000","#000000"]},"legend":null}}},
{"transform":[{"filter":"indexof(['e','g','i','q'],datum.s)>=0"}],"mark":{"type":"point","filled":false,"opacity":1,"strokeWidth":1.3,"clip":true},"encoding":{"fill":{"condition":{"test":"datum.s=='e'","value":"#0000ff"},"value":"transparent"},"color":{"field":"s","type":"nominal","scale":{"domain":["e","f","g","h","i","q","k"],"range":["#0000ff","#0000ff","#008000","#008000","#ff0000","#000000","#000000"]},"legend":null},"shape":{"field":"s","type":"nominal","scale":{"domain":["e","f","g","h","i","q","k"],"range":["circle","M-3,0L3,0","M-1,-1L1,1M1,-1L-1,1","M-3,0L3,0","M-1,-1L1,1M1,-1L-1,1","M-1,0L1,0M0,-1L0,1","M-3,0L3,0"]},"legend":null},"size":{"field":"s","type":"nominal","scale":{"type":"ordinal","domain":["e","f","g","h","i","q","k"],"range":[10,81,36,81,36,44,81]},"legend":null}}}]},
{"width":299,"height":173,"data":{"name":"u"},"transform":[{"filter":"datum.p==3"},{"fold":["e","f","g","h","i","q"],"as":["s","v"]},{"filter":"isValid(datum.v)"}],"encoding":{"x":{"field":"x","type":"quantitative","scale":{"domain":[-246,5210],"nice":false,"zero":false},"axis":{"values":[0,1000,2000,3000,4000,5000],"labels":false,"title":null}},"y":{"field":"v","type":"quantitative","scale":{"type":"log","domain":[0.62,100000000],"nice":false},"axis":{"values":[1,100,10000,1000000,100000000],"labels":false,"title":null}}},"layer":[
{"transform":[{"filter":"indexof(['f','h','q'],datum.s)>=0"}],"mark":{"type":"line","strokeWidth":1.5,"clip":true},"encoding":{"stroke":{"field":"s","type":"nominal","scale":{"domain":["f","h","q"],"range":["#0000ff","#008000","#000000"]},"legend":null}}},
{"transform":[{"filter":"indexof(['e','g','i','q'],datum.s)>=0"}],"mark":{"type":"point","filled":false,"opacity":1,"strokeWidth":1.3,"clip":true},"encoding":{"fill":{"condition":{"test":"datum.s=='e'","value":"#0000ff"},"value":"transparent"},"color":{"field":"s","type":"nominal","scale":{"domain":["e","f","g","h","i","q","k"],"range":["#0000ff","#0000ff","#008000","#008000","#ff0000","#000000","#000000"]},"legend":null},"shape":{"field":"s","type":"nominal","scale":{"domain":["e","f","g","h","i","q","k"],"range":["circle","M-3,0L3,0","M-1,-1L1,1M1,-1L-1,1","M-3,0L3,0","M-1,-1L1,1M1,-1L-1,1","M-1,0L1,0M0,-1L0,1","M-3,0L3,0"]},"legend":null},"size":{"field":"s","type":"nominal","scale":{"type":"ordinal","domain":["e","f","g","h","i","q","k"],"range":[10,81,36,81,36,44,81]},"legend":null}}}]},
{"width":299,"height":173,"data":{"name":"u"},"transform":[{"filter":"datum.p==4"},{"fold":["e","f","g","h","i","q"],"as":["s","v"]},{"filter":"isValid(datum.v)"}],"encoding":{"x":{"field":"x","type":"quantitative","scale":{"domain":[-246,5210],"nice":false,"zero":false},"axis":{"values":[0,1000,2000,3000,4000,5000],"labels":false,"title":null}},"y":{"field":"v","type":"quantitative","scale":{"type":"log","domain":[0.62,100000000],"nice":false},"axis":{"values":[1,100,10000,1000000,100000000],"labels":false,"title":null}}},"layer":[
{"transform":[{"filter":"indexof(['f','h','q'],datum.s)>=0"}],"mark":{"type":"line","strokeWidth":1.5,"clip":true},"encoding":{"stroke":{"field":"s","type":"nominal","scale":{"domain":["f","h","q"],"range":["#0000ff","#008000","#000000"]},"legend":null}}},
{"transform":[{"filter":"indexof(['e','g','i','q'],datum.s)>=0"}],"mark":{"type":"point","filled":false,"opacity":1,"strokeWidth":1.3,"clip":true},"encoding":{"fill":{"condition":{"test":"datum.s=='e'","value":"#0000ff"},"value":"transparent"},"color":{"field":"s","type":"nominal","scale":{"domain":["e","f","g","h","i","q","k"],"range":["#0000ff","#0000ff","#008000","#008000","#ff0000","#000000","#000000"]},"legend":null},"shape":{"field":"s","type":"nominal","scale":{"domain":["e","f","g","h","i","q","k"],"range":["circle","M-3,0L3,0","M-1,-1L1,1M1,-1L-1,1","M-3,0L3,0","M-1,-1L1,1M1,-1L-1,1","M-1,0L1,0M0,-1L0,1","M-3,0L3,0"]},"legend":null},"size":{"field":"s","type":"nominal","scale":{"type":"ordinal","domain":["e","f","g","h","i","q","k"],"range":[10,81,36,81,36,44,81]},"legend":null}}}]},
{"width":299,"height":173,"data":{"name":"w"},"transform":[{"filter":"datum.p==1"},{"fold":["e","f","g","h","i","q"],"as":["s","v"]},{"filter":"isValid(datum.v)"}],"encoding":{"x":{"field":"x","type":"quantitative","scale":{"domain":[-246,5210],"nice":false,"zero":false},"axis":{"values":[0,1000,2000,3000,4000,5000],"labelExpr":"datum.value/1000+'K'","title":null}},"y":{"field":"v","type":"quantitative","scale":{"type":"log","domain":[0.32,100000000],"nice":false},"axis":{"values":[1,100,10000,1000000,100000000],"labelExpr":"'10'+['⁰','¹','²','³','⁴','⁵','⁶','⁷','⁸'][round(log(datum.value)/LN10)]","title":"WAS"}}},"layer":[
{"transform":[{"filter":"indexof(['f','h','q'],datum.s)>=0"}],"mark":{"type":"line","strokeWidth":1.5,"clip":true},"encoding":{"stroke":{"field":"s","type":"nominal","scale":{"domain":["f","h","q"],"range":["#0000ff","#008000","#000000"]},"legend":null}}},
{"transform":[{"filter":"indexof(['e','g','i','q'],datum.s)>=0"}],"mark":{"type":"point","filled":false,"opacity":1,"strokeWidth":1.3,"clip":true},"encoding":{"fill":{"condition":{"test":"datum.s=='e'","value":"#0000ff"},"value":"transparent"},"color":{"field":"s","type":"nominal","scale":{"domain":["e","f","g","h","i","q","k"],"range":["#0000ff","#0000ff","#008000","#008000","#ff0000","#000000","#000000"]},"legend":{"title":null,"orient":"none","legendX":16,"legendY":6,"columns":2,"symbolStrokeWidth":1.4,"encode":{"symbols":{"update":{"fill":{"value":"#0000ff"}}}},"labelExpr":"['RW Exp.','RW U. Bound','RW-BM Exp.','RW-BM U. Bound','CoRW Exp.','Queue Exp.','Queue Theo.'][indexof(['e','f','g','h','i','q','k'],datum.label)]","labelFontSize":12,"padding":4,"rowPadding":5.6,"columnPadding":18.5,"symbolOffset":7,"labelOffset":16,"strokeColor":"#cccccc","fillColor":"rgba(255,255,255,0.8)","cornerRadius":3}},"shape":{"field":"s","type":"nominal","scale":{"domain":["e","f","g","h","i","q","k"],"range":["circle","M-3,0L3,0","M-1,-1L1,1M1,-1L-1,1","M-3,0L3,0","M-1,-1L1,1M1,-1L-1,1","M-1,0L1,0M0,-1L0,1","M-3,0L3,0"]},"legend":{"title":null,"orient":"none","legendX":16,"legendY":6,"columns":2,"symbolStrokeWidth":1.4,"encode":{"symbols":{"update":{"fill":{"value":"#0000ff"}}}},"labelExpr":"['RW Exp.','RW U. Bound','RW-BM Exp.','RW-BM U. Bound','CoRW Exp.','Queue Exp.','Queue Theo.'][indexof(['e','f','g','h','i','q','k'],datum.label)]","labelFontSize":12,"padding":4,"rowPadding":5.6,"columnPadding":18.5,"symbolOffset":7,"labelOffset":16,"strokeColor":"#cccccc","fillColor":"rgba(255,255,255,0.8)","cornerRadius":3}},"size":{"field":"s","type":"nominal","scale":{"type":"ordinal","domain":["e","f","g","h","i","q","k"],"range":[10,75,36,75,36,44,75]},"legend":{"title":null,"orient":"none","legendX":16,"legendY":6,"columns":2,"symbolStrokeWidth":1.4,"encode":{"symbols":{"update":{"fill":{"value":"#0000ff"}}}},"labelExpr":"['RW Exp.','RW U. Bound','RW-BM Exp.','RW-BM U. Bound','CoRW Exp.','Queue Exp.','Queue Theo.'][indexof(['e','f','g','h','i','q','k'],datum.label)]","labelFontSize":12,"padding":4,"rowPadding":5.6,"columnPadding":18.5,"symbolOffset":7,"labelOffset":16,"strokeColor":"#cccccc","fillColor":"rgba(255,255,255,0.8)","cornerRadius":3}}}}]},
{"width":299,"height":173,"data":{"name":"w"},"transform":[{"filter":"datum.p==2"},{"fold":["e","f","g","h","i","q"],"as":["s","v"]},{"filter":"isValid(datum.v)"}],"encoding":{"x":{"field":"x","type":"quantitative","scale":{"domain":[-246,5210],"nice":false,"zero":false},"axis":{"values":[0,1000,2000,3000,4000,5000],"labelExpr":"datum.value/1000+'K'","title":null}},"y":{"field":"v","type":"quantitative","scale":{"type":"log","domain":[0.32,100000000],"nice":false},"axis":{"values":[1,100,10000,1000000,100000000],"labels":false,"title":null}}},"layer":[
{"transform":[{"filter":"indexof(['f','h','q'],datum.s)>=0"}],"mark":{"type":"line","strokeWidth":1.5,"clip":true},"encoding":{"stroke":{"field":"s","type":"nominal","scale":{"domain":["f","h","q"],"range":["#0000ff","#008000","#000000"]},"legend":null}}},
{"transform":[{"filter":"indexof(['e','g','i','q'],datum.s)>=0"}],"mark":{"type":"point","filled":false,"opacity":1,"strokeWidth":1.3,"clip":true},"encoding":{"fill":{"condition":{"test":"datum.s=='e'","value":"#0000ff"},"value":"transparent"},"color":{"field":"s","type":"nominal","scale":{"domain":["e","f","g","h","i","q","k"],"range":["#0000ff","#0000ff","#008000","#008000","#ff0000","#000000","#000000"]},"legend":null},"shape":{"field":"s","type":"nominal","scale":{"domain":["e","f","g","h","i","q","k"],"range":["circle","M-3,0L3,0","M-1,-1L1,1M1,-1L-1,1","M-3,0L3,0","M-1,-1L1,1M1,-1L-1,1","M-1,0L1,0M0,-1L0,1","M-3,0L3,0"]},"legend":null},"size":{"field":"s","type":"nominal","scale":{"type":"ordinal","domain":["e","f","g","h","i","q","k"],"range":[10,75,36,75,36,44,75]},"legend":null}}}]},
{"width":299,"height":173,"data":{"name":"w"},"transform":[{"filter":"datum.p==3"},{"fold":["e","f","g","h","i","q"],"as":["s","v"]},{"filter":"isValid(datum.v)"}],"encoding":{"x":{"field":"x","type":"quantitative","scale":{"domain":[-246,5210],"nice":false,"zero":false},"axis":{"values":[0,1000,2000,3000,4000,5000],"labelExpr":"datum.value/1000+'K'","title":null}},"y":{"field":"v","type":"quantitative","scale":{"type":"log","domain":[0.32,100000000],"nice":false},"axis":{"values":[1,100,10000,1000000,100000000],"labels":false,"title":null}}},"layer":[
{"transform":[{"filter":"indexof(['f','h','q'],datum.s)>=0"}],"mark":{"type":"line","strokeWidth":1.5,"clip":true},"encoding":{"stroke":{"field":"s","type":"nominal","scale":{"domain":["f","h","q"],"range":["#0000ff","#008000","#000000"]},"legend":null}}},
{"transform":[{"filter":"indexof(['e','g','i','q'],datum.s)>=0"}],"mark":{"type":"point","filled":false,"opacity":1,"strokeWidth":1.3,"clip":true},"encoding":{"fill":{"condition":{"test":"datum.s=='e'","value":"#0000ff"},"value":"transparent"},"color":{"field":"s","type":"nominal","scale":{"domain":["e","f","g","h","i","q","k"],"range":["#0000ff","#0000ff","#008000","#008000","#ff0000","#000000","#000000"]},"legend":null},"shape":{"field":"s","type":"nominal","scale":{"domain":["e","f","g","h","i","q","k"],"range":["circle","M-3,0L3,0","M-1,-1L1,1M1,-1L-1,1","M-3,0L3,0","M-1,-1L1,1M1,-1L-1,1","M-1,0L1,0M0,-1L0,1","M-3,0L3,0"]},"legend":null},"size":{"field":"s","type":"nominal","scale":{"type":"ordinal","domain":["e","f","g","h","i","q","k"],"range":[10,75,36,75,36,44,75]},"legend":null}}}]},
{"width":299,"height":173,"data":{"name":"w"},"transform":[{"filter":"datum.p==4"},{"fold":["e","f","g","h","i","q"],"as":["s","v"]},{"filter":"isValid(datum.v)"}],"encoding":{"x":{"field":"x","type":"quantitative","scale":{"domain":[-246,5210],"nice":false,"zero":false},"axis":{"values":[0,1000,2000,3000,4000,5000],"labelExpr":"datum.value/1000+'K'","title":null}},"y":{"field":"v","type":"quantitative","scale":{"type":"log","domain":[0.32,100000000],"nice":false},"axis":{"values":[1,100,10000,1000000,100000000],"labels":false,"title":null}}},"layer":[
{"transform":[{"filter":"indexof(['f','h','q'],datum.s)>=0"}],"mark":{"type":"line","strokeWidth":1.5,"clip":true},"encoding":{"stroke":{"field":"s","type":"nominal","scale":{"domain":["f","h","q"],"range":["#0000ff","#008000","#000000"]},"legend":null}}},
{"transform":[{"filter":"indexof(['e','g','i','q'],datum.s)>=0"}],"mark":{"type":"point","filled":false,"opacity":1,"strokeWidth":1.3,"clip":true},"encoding":{"fill":{"condition":{"test":"datum.s=='e'","value":"#0000ff"},"value":"transparent"},"color":{"field":"s","type":"nominal","scale":{"domain":["e","f","g","h","i","q","k"],"range":["#0000ff","#0000ff","#008000","#008000","#ff0000","#000000","#000000"]},"legend":null},"shape":{"field":"s","type":"nominal","scale":{"domain":["e","f","g","h","i","q","k"],"range":["circle","M-3,0L3,0","M-1,-1L1,1M1,-1L-1,1","M-3,0L3,0","M-1,-1L1,1M1,-1L-1,1","M-1,0L1,0M0,-1L0,1","M-3,0L3,0"]},"legend":null},"size":{"field":"s","type":"nominal","scale":{"type":"ordinal","domain":["e","f","g","h","i","q","k"],"range":[10,75,36,75,36,44,75]},"legend":null}}}]}
],
"config":{
"font":"DejaVu Sans",
"view":{"stroke":"black","strokeWidth":1},
"axis":{"domain":false,"grid":false,"tickColor":"black","tickSize":5,"tickWidth":1,"labelFontSize":16,"labelColor":"black","labelPadding":3,"labelFlush":false,"labelOverlap":false,"titleFontSize":18,"titleFontWeight":"normal","titleColor":"black","titlePadding":8},
"title":{"fontSize":18,"fontWeight":"normal","color":"black","offset":4},
"legend":{"labelColor":"black"}
}
}
